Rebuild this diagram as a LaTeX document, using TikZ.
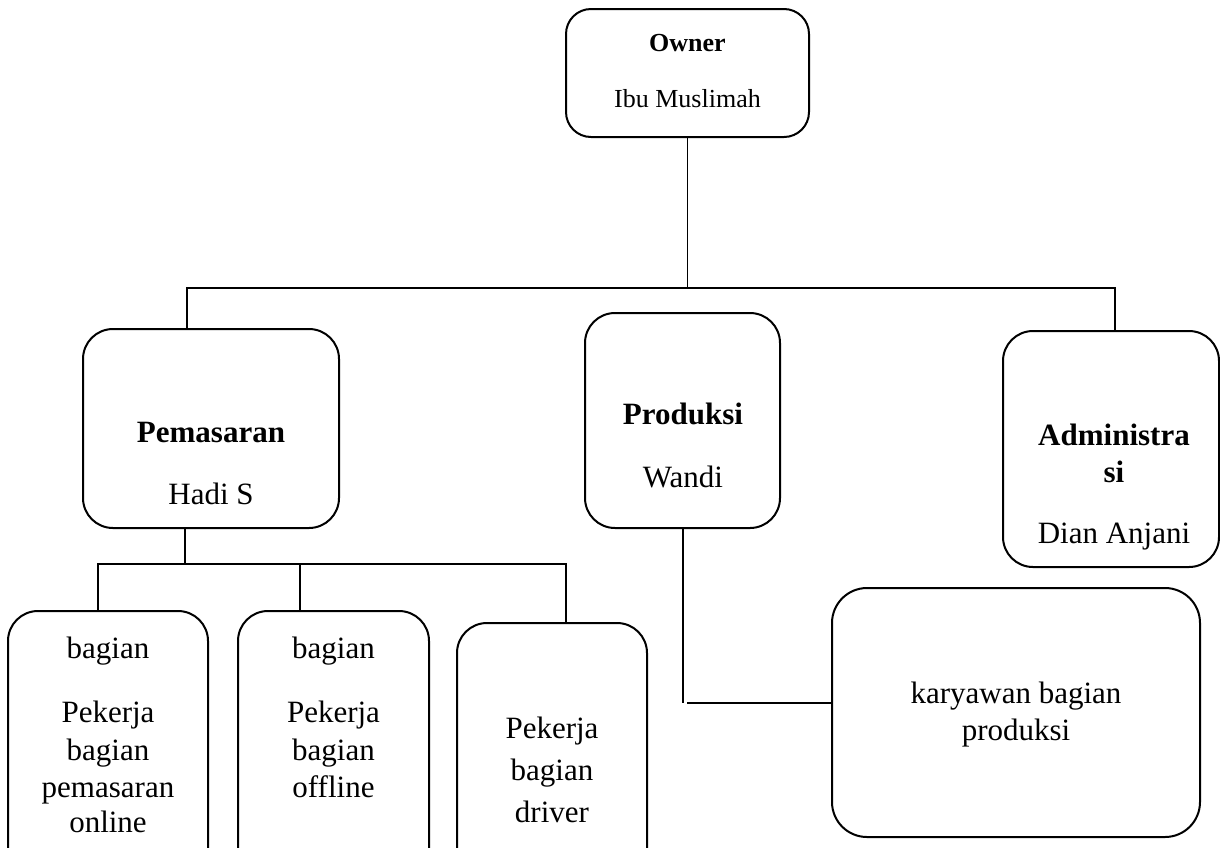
\documentclass[tikz,border=0pt]{standalone}
\usepackage{fontspec}
\setmainfont{Liberation Serif}
\begin{document}
\begin{tikzpicture}[x=1pt,y=-1pt,%
% common options for the boxes:
box/.style = {draw, rounded corners=30pt, line width=2pt, inner sep=0},
% common options for the text lines:
txt/.style = {anchor=base, inner sep=0, font=\fontsize{31}{37}\selectfont},
head/.style = {txt, font=\fontsize{31}{37}\selectfont\bfseries},
small/.style = {txt, font=\fontsize{26}{30}\selectfont},
line/.style = {line width=1.5pt}]
\path[use as bounding box, clip] (0,0) rectangle (1220,847);
\fill[white] (0,0) rectangle (1220,847);
% boxes
\node[box,rounded corners=25pt,minimum width=243pt,minimum height=128pt] (owner) at (687.5,73) {};
\node[box,minimum width=256pt,minimum height=199pt] (pemasaran) at (211,428.5) {};
\node[box,minimum width=195pt,minimum height=215pt] (produksi) at (682.5,420.5) {};
\node[box,minimum width=216pt,minimum height=236pt] (admin) at (1111,449) {};
\node[box,minimum width=200pt,minimum height=269pt] (online) at (108,745.5) {};
\node[box,minimum width=191pt,minimum height=269pt] (offline) at (333.5,745.5) {};
\node[box,minimum width=190pt,minimum height=257pt] (driver) at (552,751.5) {};
\node[box,rounded corners=35pt,minimum width=368pt,minimum height=249pt] (karyawan) at (1016,712.5) {};
% texts
\node[small,font=\fontsize{26}{30}\selectfont\bfseries] (ownerA) at (687.5,51) {Owner};
\node[small] (ownerB) at (687.5,107) {Ibu Muslimah};
\node[head] (pemA) at (211,442) {Pemasaran};
\node[txt] (pemB) at (211,504) {Hadi S};
\node[head] (proA) at (683,424) {Produksi};
\node[txt] (proB) at (683,487) {Wandi};
\node[head] (admA) at (1114,445) {Administra};
\node[head] (admB) at (1114,482) {si};
\node[txt] (admC) at (1114,543) {Dian Anjani};
\node[txt] (onA) at (108,658) {bagian};
\node[txt] (onB) at (108,722) {Pekerja};
\node[txt] (onC) at (108,760) {bagian};
\node[txt] (onD) at (108,797) {pemasaran};
\node[txt] (onE) at (108,832) {online};
\node[txt] (offA) at (333.5,658) {bagian};
\node[txt] (offB) at (333.5,722) {Pekerja};
\node[txt] (offC) at (333.5,760) {bagian};
\node[txt] (offD) at (333.5,797) {offline};
\node[txt] (drvA) at (552,738) {Pekerja};
\node[txt] (drvB) at (552,780) {bagian};
\node[txt] (drvC) at (552,822) {driver};
\node[txt] (karA) at (1016,703) {karyawan bagian};
\node[txt] (karB) at (1016,740) {produksi};
% connectors
\coordinate (busL) at (187,288);
\coordinate (busR) at (1115,288);
\coordinate (pdrop) at (185,564);
\coordinate (subL) at (98,564);
\coordinate (subM) at (300,564);
\coordinate (subR) at (566,564);
\coordinate (kj) at (683,703);
\draw[line] (owner.south) -- (owner.south |- busL);
\draw[line] (busL |- pemasaran.north) -- (busL) -- (busR) -- (busR |- admin.north);
\draw[line] (pdrop |- pemasaran.south) -- (pdrop);
\draw[line] (subL |- online.north) -- (subL) -- (subR) -- (subR |- driver.north);
\draw[line] (subM) -- (subM |- offline.north);
\draw[line] (kj |- produksi.south) -- (kj);
\draw[line,shorten <=4pt] (kj) -- (kj -| karyawan.west);
\end{tikzpicture}
\end{document}
